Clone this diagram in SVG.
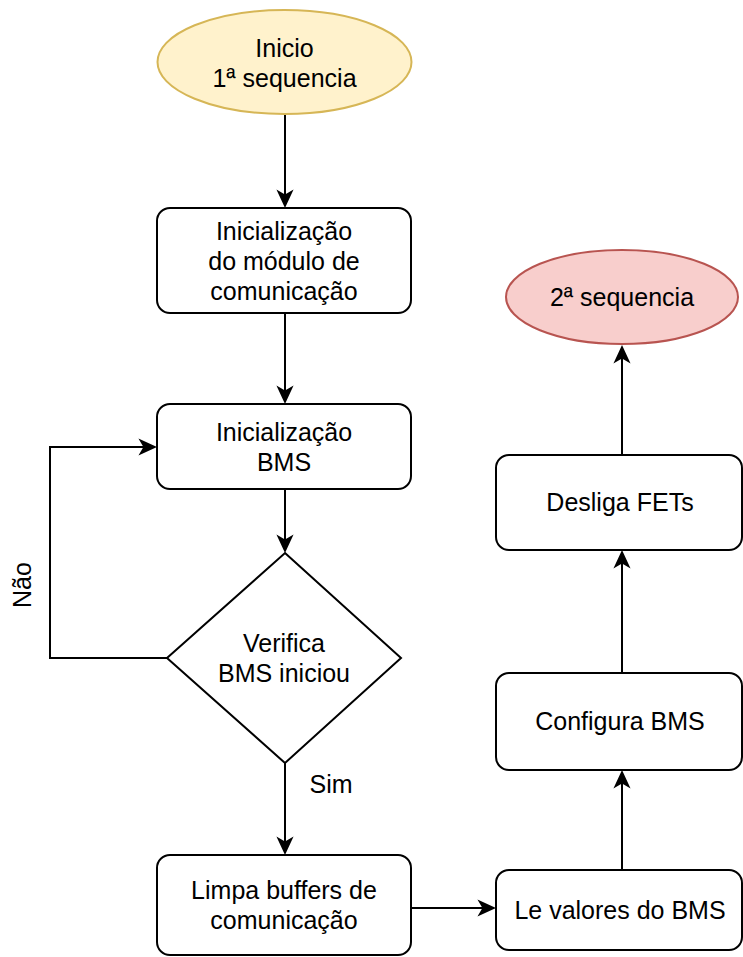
<svg xmlns="http://www.w3.org/2000/svg" width="743" height="957" viewBox="0 0 743 957">
<defs>
<style>
.box{fill:#ffffff;stroke:#000000;stroke-width:2}
.t{font-family:"Liberation Sans",Arial,sans-serif;font-size:25px;fill:#000000;text-anchor:middle}
.c{fill:none;stroke:#000000;stroke-width:2}
</style>
<marker id="arr" markerUnits="userSpaceOnUse" markerWidth="20" markerHeight="20" viewBox="0 0 14 13" refX="10.7" refY="6.5" orient="auto">
<path d="M0.5,0.5 L13.5,6.5 L0.5,12.5 L4,6.5 Z" fill="#000000"/>
</marker>
</defs>
<rect width="743" height="957" fill="#ffffff"/>
<g id="connectors">
<path class="c" d="M285,114 V204" marker-end="url(#arr)"/>
<path class="c" d="M285,313 V400" marker-end="url(#arr)"/>
<path class="c" d="M285,489 V549" marker-end="url(#arr)"/>
<path class="c" d="M167,658 H50 V447 H153" marker-end="url(#arr)"/>
<path class="c" d="M285,763 V851" marker-end="url(#arr)"/>
<path class="c" d="M411,908 H492" marker-end="url(#arr)"/>
<path class="c" d="M622,870 V774" marker-end="url(#arr)"/>
<path class="c" d="M622,673 V554" marker-end="url(#arr)"/>
<path class="c" d="M622,455 V349" marker-end="url(#arr)"/>
<text class="t" transform="translate(31,585) rotate(-90)">Não</text>
<text class="t" x="331" y="793">Sim</text>
</g>
<g id="inicio">
<ellipse cx="284.5" cy="62" rx="127" ry="52" fill="#fff2cc" stroke="#d6b656" stroke-width="2"/>
<text class="t" x="284.5" y="57">Inicio</text>
<text class="t" x="284.5" y="87">1ª sequencia</text>
</g>
<g id="init-modulo">
<rect class="box" x="157" y="208" width="254" height="105" rx="13"/>
<text class="t" x="284" y="240">Inicialização</text>
<text class="t" x="284" y="270">do módulo de</text>
<text class="t" x="284" y="300">comunicação</text>
</g>
<g id="init-bms">
<rect class="box" x="157" y="404" width="254" height="85" rx="13"/>
<text class="t" x="284" y="441">Inicialização</text>
<text class="t" x="284" y="471">BMS</text>
</g>
<g id="verifica">
<polygon class="box" points="285,553 401,658 285,763 167,658"/>
<text class="t" x="284" y="652">Verifica</text>
<text class="t" x="284" y="682">BMS iniciou</text>
</g>
<g id="limpa">
<rect class="box" x="157" y="855" width="254" height="100" rx="13"/>
<text class="t" x="284" y="899">Limpa buffers de</text>
<text class="t" x="284" y="929">comunicação</text>
</g>
<g id="le-valores">
<rect class="box" x="496" y="870" width="246" height="80" rx="13"/>
<text class="t" x="620" y="919">Le valores do BMS</text>
</g>
<g id="configura">
<rect class="box" x="496" y="673" width="246" height="97" rx="13"/>
<text class="t" x="620" y="730">Configura BMS</text>
</g>
<g id="desliga">
<rect class="box" x="496" y="455" width="246" height="95" rx="13"/>
<text class="t" x="620" y="511">Desliga FETs</text>
</g>
<g id="seq2">
<ellipse cx="622" cy="297" rx="116" ry="47" fill="#f8cecc" stroke="#b85450" stroke-width="2"/>
<text class="t" x="622" y="306">2ª sequencia</text>
</g>
</svg>
